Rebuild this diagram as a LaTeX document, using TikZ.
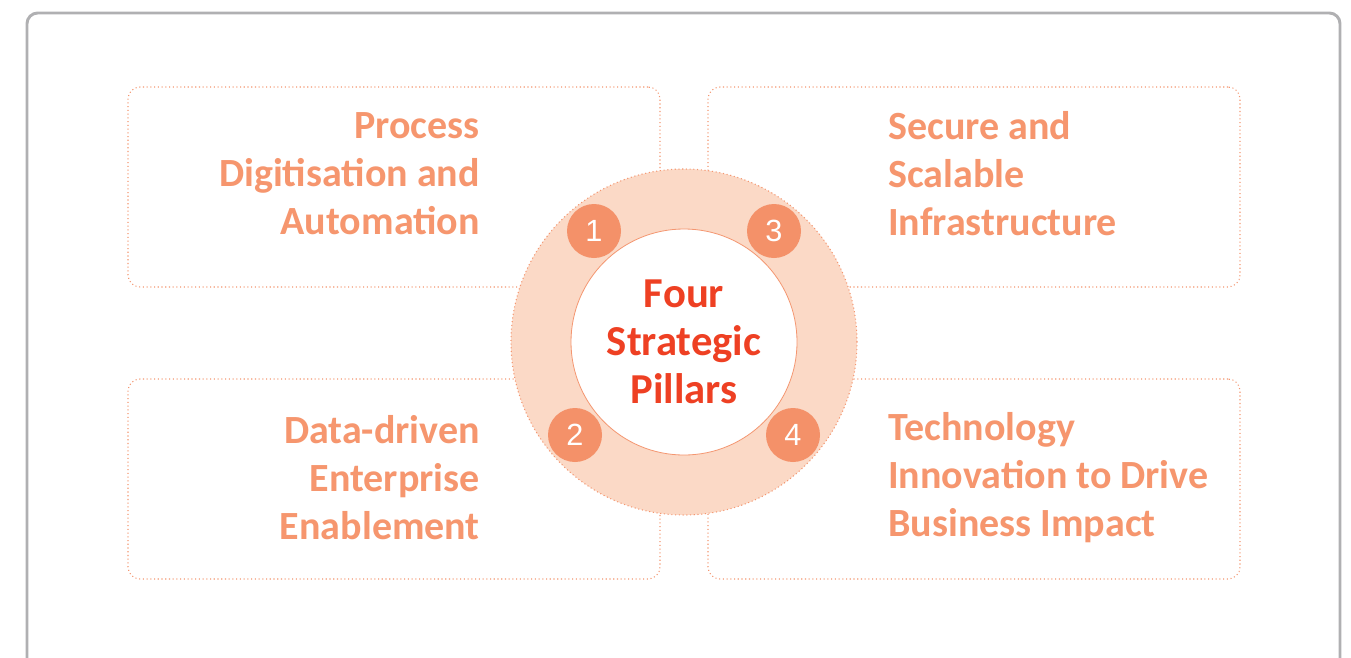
\documentclass[tikz,border=0pt]{standalone}
\usepackage{fontspec}
\setmainfont{Carlito}
\newfontfamily\numfont{Liberation Sans}
\usetikzlibrary{shapes,positioning}
\definecolor{pillartext}{RGB}{246,150,110}
\definecolor{pillarline}{RGB}{244,150,112}
\definecolor{ringfill}{RGB}{251,217,198}
\definecolor{dotfill}{RGB}{244,145,105}
\definecolor{centretext}{RGB}{238,64,35}
\definecolor{framegray}{RGB}{176,176,178}

\begin{document}
\begin{tikzpicture}[x=0.75pt,y=-0.75pt,
    pillarbox/.style={draw=pillarline, dotted, line width=0.8pt, rounded corners=9pt,
        fill=white, minimum width=399pt, minimum height=150pt},
    pillartitle/.style={text=pillartext, font=\fontsize{30}{36}\selectfont\bfseries, inner sep=0pt},
    numdot/.style={circle, fill=dotfill, minimum size=40.5pt, inner sep=0pt,
        text=white, font=\numfont\fontsize{23}{23}\selectfont}]
    \useasboundingbox (0,0) rectangle (1351,657);
    % frame
    \draw[framegray, line width=2.2pt, rounded corners=8pt] (27,13) rectangle (1340,720);

    % the four boxes
    \node[pillarbox] (boxA) at (394,187) {};
    \node[pillarbox] (boxB) at (974,187) {};
    \node[pillarbox] (boxC) at (394,479) {};
    \node[pillarbox] (boxD) at (974,479) {};

    \node[pillartitle, align=right, anchor=east] (textA) at (480,174)
        {Process\\Digitisation and\\Automation};
    \node[pillartitle, align=left, anchor=west] (textB) at (888,174)
        {Secure and\\Scalable\\Infrastructure};
    \node[pillartitle, align=right, anchor=east] (textC) at (480,478)
        {Data-driven\\Enterprise\\Enablement};
    \node[pillartitle, align=left, anchor=west] (textD) at (888,478)
        {Technology\\Innovation to Drive\\Business Impact};

    % ring in the middle
    \node[circle, fill=ringfill, draw=pillarline, dotted, line width=0.8pt,
        minimum size=259.5pt] (ring) at (684,342) {};
    \node[circle, fill=white, draw=pillarline, line width=0.6pt,
        minimum size=169.5pt, text=centretext, align=center,
        font=\fontsize{32}{36}\selectfont\bfseries] (centre) at (684,342)
        {Four\\Strategic\\Pillars};

    \node[numdot] (one) at (594,231) {1};
    \node[numdot] (two) at (575,435) {2};
    \node[numdot] (three) at (774,231) {3};
    \node[numdot] (four) at (793,435) {4};
\end{tikzpicture}
\end{document}
